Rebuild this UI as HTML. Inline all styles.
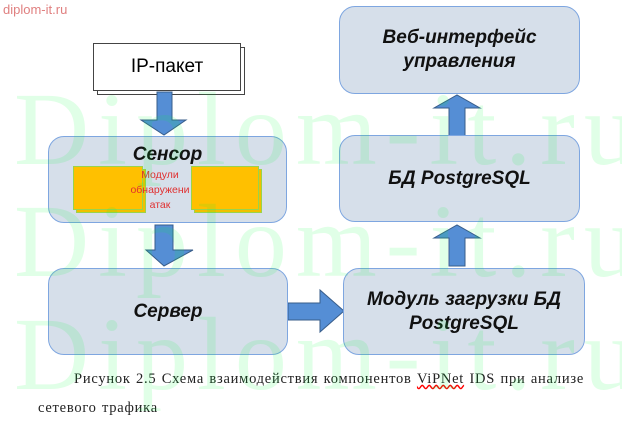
<!DOCTYPE html>
<html><head><meta charset="utf-8"><style>
body{margin:0;width:622px;height:416px;background:#fff;overflow:hidden;position:relative;font-family:"Liberation Sans",sans-serif}
.b{position:absolute;background:#d6dfea;border:1.5px solid #7ea6e0;border-radius:16px;box-sizing:border-box;display:flex;align-items:center;justify-content:center;text-align:center;font-weight:bold;font-style:italic;font-size:19px;color:#111;line-height:24px}
.wm{position:absolute;left:14px;font-family:"Liberation Serif",serif;font-size:104px;letter-spacing:9px;color:rgba(0,255,60,0.12);white-space:nowrap;line-height:1}
</style></head><body>
<div style="position:absolute;left:3px;top:2px;font-size:13px;color:#e08080">diplom-it.ru</div>
<div style="position:absolute;left:97px;top:47px;width:146px;height:46px;background:#fff;border:1px solid #444"></div>
<div style="position:absolute;left:93px;top:43px;width:146px;height:46px;background:#fff;border:1px solid #444;display:flex;align-items:center;justify-content:center;font-size:19px">IP-пакет</div>
<svg style="position:absolute;left:0;top:0" width="622" height="416">
<g fill="#558ed5" stroke="#385d8a" stroke-width="1">
<polygon points="157,92 172,92 172,120 186,120 164,135 141,120 157,120"/>
<polygon points="155,225 173,225 173,250 193,250 164,266 146,250 155,250"/>
<polygon points="288,303 320,303 320,290 344,311 320,332 320,320 288,320"/>
<polygon points="449,136 465,136 465,108 480,108 457,95 434,108 449,108"/>
<polygon points="449,266 465,266 465,238 480,238 457,225 434,238 449,238"/>
</g></svg>
<div class="b" style="left:48px;top:136px;width:239px;height:87px;align-items:flex-start;padding-top:6px">Сенсор</div>
<div style="position:absolute;left:76px;top:169px;width:68px;height:42px;background:#f0c000;border:1px solid #9bd34a"></div>
<div style="position:absolute;left:73px;top:166px;width:68px;height:42px;background:#ffc000;border:1px solid #9bd34a"></div>
<div style="position:absolute;left:194px;top:169px;width:66px;height:42px;background:#f0c000;border:1px solid #9bd34a"></div>
<div style="position:absolute;left:191px;top:166px;width:66px;height:42px;background:#ffc000;border:1px solid #9bd34a"></div>
<div style="position:absolute;left:128px;top:168px;width:64px;text-align:center;font-size:10.5px;line-height:15px;color:#e03030;overflow:hidden;white-space:nowrap">Модули<br>обнаружени<br>атак</div>
<div class="b" style="left:48px;top:268px;width:240px;height:87px">Сервер</div>
<div class="b" style="left:343px;top:268px;width:242px;height:87px">Модуль загрузки БД<br>PostgreSQL</div>
<div class="b" style="left:339px;top:135px;width:241px;height:87px">БД PostgreSQL</div>
<div class="b" style="left:339px;top:6px;width:241px;height:88px">Веб-интерфейс<br>управления</div>
<div style="position:absolute;left:0;top:365px;width:622px;font-family:'Liberation Serif',serif;font-size:14.5px;letter-spacing:0.75px;word-spacing:1px;color:#222;line-height:29px;white-space:nowrap"><span style="padding-left:74px">Рисунок 2.5 Схема взаимодействия компонентов <u style="text-decoration:underline wavy red">ViPNet</u> IDS при анализе</span><br><span style="padding-left:38px">сетевого трафика</span></div>
<div class="wm" style="top:78px">Diplom-it.ru</div>
<div class="wm" style="top:190px">Diplom-it.ru</div>
<div class="wm" style="top:303px">Diplom-it.ru</div>
</body></html>
